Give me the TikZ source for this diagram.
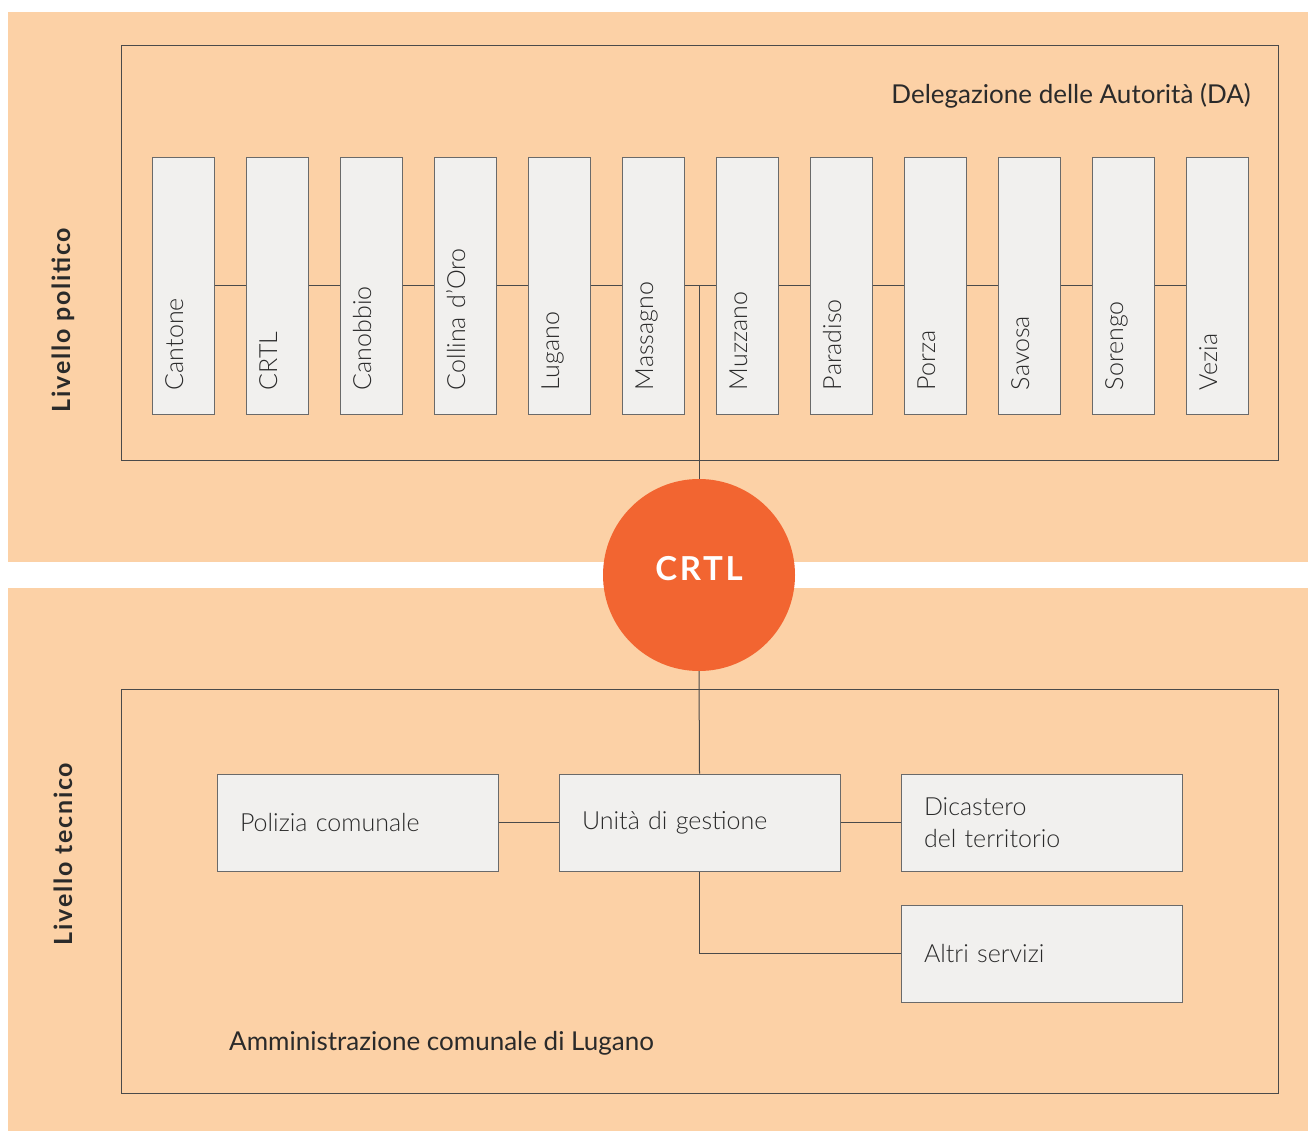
\documentclass[tikz,border=0pt]{standalone}
\usepackage{fontspec}
\setmainfont{Lato Light}[BoldFont={Lato Bold}]
\newfontfamily\regfont{Lato}
\newfontfamily\lvlfont{Lato Bold}[LetterSpace=7]
\newfontfamily\crtlfont{Lato Bold}[LetterSpace=8]
\definecolor{peach}{HTML}{FCD1A6}
\definecolor{boxfill}{HTML}{F1F0EE}
\definecolor{orng}{HTML}{F26531}
\definecolor{linec}{HTML}{4A4A4A}
\definecolor{boxline}{HTML}{6A6A6A}
\definecolor{txt}{HTML}{2A2A2A}
\tikzset{
  band/.style={fill=peach, draw=none},
  frame/.style={draw=linec, line width=0.9pt},
  vbox/.style={draw=boxline, fill=boxfill, line width=1pt, rotate=90, minimum width=256pt, minimum height=62pt,
     inner xsep=24pt, inner ysep=0pt, text width=208pt, align=left, text height=12pt, text depth=12pt,
     font=\fontsize{25}{28}\selectfont, text=txt},
  hbox/.style={draw=boxline, fill=boxfill, line width=1pt, minimum width=281pt, minimum height=97pt,
     inner xsep=23pt, text width=235pt, align=left, font=\fontsize{25}{32}\selectfont, text=txt},
  conn/.style={draw=linec, line width=1pt},
  lvl/.style={rotate=90, font=\lvlfont\fontsize{25}{28}\selectfont, text=txt},
  captxt/.style={font=\regfont\fontsize{26}{30}\selectfont, text=txt, inner sep=0pt}
}
\begin{document}
\begin{tikzpicture}[x=1pt,y=-1pt]
\useasboundingbox (0,0) rectangle (1308,1131);
\fill[white] (0,0) rectangle (1308,1131);
\path[band] (8,12) rectangle (1308,562);
\path[band] (8,588) rectangle (1308,1131);
\draw[frame] (121,45) rectangle (1278,460);
\draw[frame] (121,689) rectangle (1278,1093);
\node[captxt, anchor=east] (da) at (1251,96) {Delegazione delle Autorità (DA)};
\node[lvl] (lp) at (63,320) {Livello politico};
\node[lvl] (lt) at (63,854) {Livello tecnico};
\node[vbox] (b1) at (183,286) {Cantone};
\node[vbox] (b2) at (277,286) {CRTL};
\node[vbox] (b3) at (371,286) {Canobbio};
\node[vbox] (b4) at (465,286) {Collina d'Oro};
\node[vbox] (b5) at (559,286) {Lugano};
\node[vbox] (b6) at (653,286) {Massagno};
\node[vbox] (b7) at (747,286) {Muzzano};
\node[vbox] (b8) at (841,286) {Paradiso};
\node[vbox] (b9) at (935,286) {Porza};
\node[vbox] (b10) at (1029,286) {Savosa};
\node[vbox] (b11) at (1123,286) {Sorengo};
\node[vbox] (b12) at (1217,286) {Vezia};
\foreach \a/\b in {b1/b2,b2/b3,b3/b4,b4/b5,b5/b6,b6/b7,b7/b8,b8/b9,b9/b10,b10/b11,b11/b12}
  \draw[conn] (\a) -- (\b);
\coordinate (j) at (699,286);
\node[circle, fill=orng, minimum size=192pt, inner sep=0pt] (crtl) at (699,575) {};
\node[anchor=base, inner sep=0pt, text=white, font=\crtlfont\fontsize{33}{40}\selectfont] (crtltxt) at (699,580) {CRTL};
\node[hbox] (pol) at (357.5,822.5) {Polizia comunale};
\node[hbox] (uni) at (699.5,822.5) {Unità di gestione};
\node[hbox] (dic) at (1041.5,822.5) {Dicastero\\del territorio};
\node[hbox] (alt) at (1041.5,953.5) {Altri servizi};
\draw[conn] (j) -- (crtl.north);
\draw[conn] (crtl.south) -- (uni.north);
\draw[conn] (pol) -- (uni);
\draw[conn] (uni) -- (dic);
\draw[conn] (uni.south) |- (alt.west);
\node[captxt, anchor=west] (amm) at (229,1043) {Amministrazione comunale di Lugano};
\end{tikzpicture}
\end{document}
